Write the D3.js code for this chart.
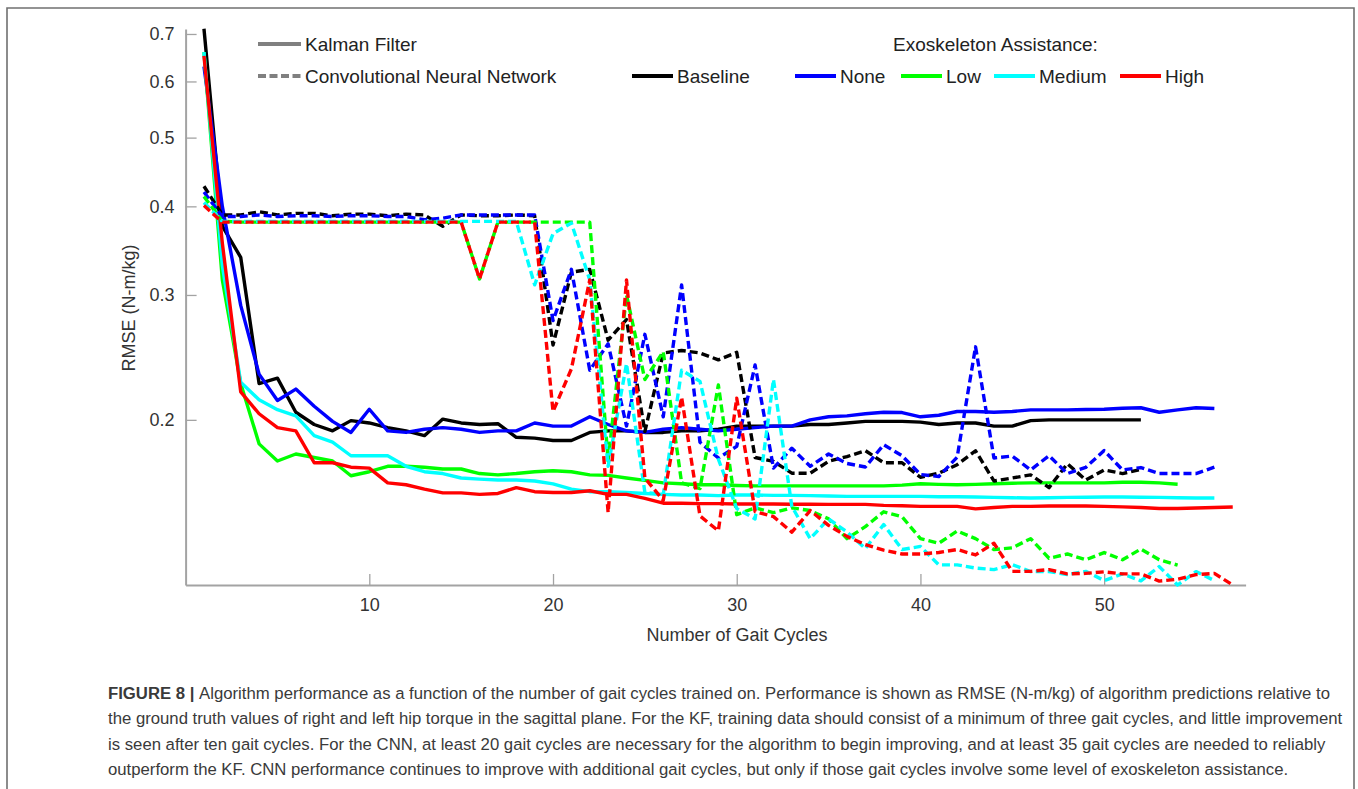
<!DOCTYPE html>
<html>
<head>
<meta charset="utf-8">
<script src="https://cdn.jsdelivr.net/npm/d3@7"></script>
<style>
  html, body { margin: 0; padding: 0; background: #fff; }
  svg { display: block; font-family: "Liberation Sans", Arial, Helvetica, sans-serif; }
</style>
</head>
<body>
<svg id="chart" width="1358" height="789"></svg>
<script>
// RMSE (N-m/kg) per number of gait cycles
const kfBaseline = [0.712, 0.375, 0.339, 0.225, 0.229, 0.205, 0.197, 0.193, 0.1995, 0.198,
  0.195, 0.193, 0.190, 0.2005, 0.198, 0.197, 0.1975, 0.189, 0.1885, 0.187,
  0.187, 0.192, 0.193, 0.193, 0.192, 0.192, 0.193, 0.193, 0.194, 0.196,
  0.196, 0.196, 0.196, 0.197, 0.197, 0.198, 0.199, 0.199, 0.199, 0.1985,
  0.197, 0.198, 0.198, 0.196, 0.196, 0.1995, 0.2, 0.2, 0.2, 0.2,
  0.2, 0.2];
const kfNone = [0.63, 0.40, 0.29, 0.232, 0.213, 0.221, 0.209, 0.199, 0.192, 0.207,
  0.193, 0.192, 0.194, 0.195, 0.194, 0.192, 0.193, 0.193, 0.198, 0.196,
  0.196, 0.202, 0.197, 0.193, 0.192, 0.194, 0.195, 0.194, 0.193, 0.194,
  0.195, 0.196, 0.196, 0.2, 0.202, 0.2026, 0.204, 0.205, 0.2048, 0.202,
  0.203, 0.2055, 0.2055, 0.205, 0.2055, 0.2066, 0.2066, 0.2066, 0.2068, 0.207,
  0.2077, 0.208, 0.205, 0.2066, 0.208, 0.2075];
const kfLow = [0.66, 0.315, 0.225, 0.185, 0.175, 0.179, 0.177, 0.175, 0.1668, 0.169,
  0.172, 0.172, 0.1715, 0.1705, 0.1705, 0.168, 0.1673, 0.168, 0.169, 0.1695,
  0.169, 0.1673, 0.167, 0.1656, 0.1643, 0.163, 0.1625, 0.162, 0.162, 0.1616,
  0.1614, 0.1614, 0.1614, 0.1614, 0.1614, 0.1614, 0.1614, 0.1614, 0.1618, 0.1625,
  0.1622, 0.162, 0.1622, 0.1625, 0.1628, 0.163, 0.163, 0.163, 0.163, 0.163,
  0.1633, 0.1633, 0.163, 0.1623];
const kfMedium = [0.66, 0.33, 0.226, 0.2135, 0.2067, 0.2026, 0.19, 0.186, 0.178, 0.178,
  0.178, 0.172, 0.169, 0.168, 0.1656, 0.165, 0.1645, 0.1645, 0.164, 0.1625,
  0.1597, 0.1584, 0.1584, 0.158, 0.1575, 0.157, 0.1567, 0.1567, 0.1564, 0.1567,
  0.1567, 0.1565, 0.1565, 0.1564, 0.1562, 0.156, 0.156, 0.156, 0.156, 0.156,
  0.1558, 0.1558, 0.1557, 0.1555, 0.1553, 0.1552, 0.1553, 0.1555, 0.1556, 0.1557,
  0.1557, 0.1556, 0.1555, 0.1553, 0.1552, 0.1552];
const kfHigh = [0.652, 0.355, 0.219, 0.204, 0.195, 0.193, 0.174, 0.174, 0.1715, 0.171,
  0.163, 0.162, 0.1597, 0.1578, 0.1578, 0.157, 0.1575, 0.1605, 0.1584, 0.158,
  0.158, 0.1589, 0.157, 0.157, 0.155, 0.1526, 0.1526, 0.1524, 0.1524, 0.1522,
  0.1522, 0.1522, 0.1521, 0.1521, 0.152, 0.152, 0.152, 0.1515, 0.1513, 0.151,
  0.151, 0.151, 0.1498, 0.1505, 0.151, 0.151, 0.1512, 0.1512, 0.1512, 0.151,
  0.1508, 0.1505, 0.15, 0.15, 0.1502, 0.1505, 0.1507];

const cnnBaseline = [0.427, 0.389, 0.389, 0.393, 0.389, 0.391, 0.391, 0.388, 0.39, 0.39,
  0.388, 0.39, 0.389, 0.375, 0.389, 0.388, 0.388, 0.389, 0.388, 0.255,
  0.323, 0.326, 0.259, 0.277, 0.1925, 0.2485, 0.2505, 0.2485, 0.243, 0.249,
  0.177, 0.1748, 0.1682, 0.1682, 0.1748, 0.1775, 0.181, 0.174, 0.174, 0.166,
  0.1682, 0.1729, 0.1809, 0.164, 0.1656, 0.1673, 0.1605, 0.1735, 0.1645, 0.17,
  0.168, 0.1703];
const cnnNone = [0.419, 0.387, 0.387, 0.389, 0.387, 0.388, 0.388, 0.387, 0.388, 0.388,
  0.387, 0.387, 0.383, 0.385, 0.389, 0.389, 0.389, 0.389, 0.389, 0.276,
  0.326, 0.235, 0.256, 0.196, 0.264, 0.202, 0.31, 0.186, 0.1767, 0.1835,
  0.239, 0.171, 0.1824, 0.172, 0.179, 0.1736, 0.1716, 0.1845, 0.178, 0.1675,
  0.1664, 0.1772, 0.2535, 0.1767, 0.1778, 0.17, 0.178, 0.168, 0.1714, 0.181,
  0.17, 0.1713, 0.168, 0.168, 0.168, 0.1715];
const cnnLow = [0.413, 0.381, 0.38, 0.38, 0.38, 0.38, 0.38, 0.38, 0.38, 0.38,
  0.38, 0.38, 0.38, 0.38, 0.38, 0.316, 0.38, 0.38, 0.38, 0.38,
  0.38, 0.38, 0.175, 0.30, 0.228, 0.2495, 0.163, 0.16, 0.224, 0.147,
  0.1503, 0.148, 0.1503, 0.149, 0.145, 0.136, 0.1414, 0.1484, 0.146, 0.136,
  0.134, 0.1394, 0.136, 0.1313, 0.132, 0.136, 0.1276, 0.1294, 0.127, 0.13,
  0.127, 0.1315, 0.127, 0.1248];
const cnnMedium = [0.405, 0.381, 0.381, 0.381, 0.381, 0.381, 0.381, 0.381, 0.381, 0.381,
  0.381, 0.381, 0.381, 0.381, 0.381, 0.381, 0.381, 0.381, 0.31, 0.366,
  0.379, 0.315, 0.172, 0.24, 0.158, 0.157, 0.235, 0.2266, 0.176, 0.15,
  0.145, 0.228, 0.151, 0.136, 0.145, 0.139, 0.1317, 0.1424, 0.1313, 0.1326,
  0.1249, 0.1249, 0.1236, 0.123, 0.125, 0.1222, 0.1222, 0.121, 0.1223, 0.1187,
  0.1213, 0.1186, 0.1242, 0.117, 0.1222, 0.1187];
const cnnHigh = [0.401, 0.38, 0.38, 0.38, 0.38, 0.38, 0.38, 0.38, 0.38, 0.38,
  0.38, 0.38, 0.38, 0.38, 0.38, 0.316, 0.38, 0.38, 0.38, 0.2055,
  0.236, 0.315, 0.148, 0.315, 0.1656, 0.154, 0.2153, 0.1464, 0.1395, 0.2146,
  0.1485, 0.1461, 0.1389, 0.149, 0.142, 0.137, 0.1334, 0.131, 0.1294, 0.1294,
  0.13, 0.1313, 0.129, 0.134, 0.1223, 0.1223, 0.123, 0.1213, 0.1215, 0.1221,
  0.1213, 0.1213, 0.1185, 0.1192, 0.121, 0.1215, 0.117];

const conditions = ["Baseline", "None", "Low", "Medium", "High"];
const conditionColors = ["#000000", "#0000ff", "#00ff00", "#00ffff", "#ff0000"];
const kfSeries = [kfBaseline, kfNone, kfLow, kfMedium, kfHigh];
const cnnSeries = [cnnBaseline, cnnNone, cnnLow, cnnMedium, cnnHigh];

const xTicks = [10, 20, 30, 40, 50];
const yMajorTicks = [0.2, 0.3, 0.4, 0.5, 0.6, 0.7];
const yMinorTicks = [0.12, 0.14, 0.16, 0.18, 0.22, 0.24, 0.26, 0.28, 0.32, 0.34, 0.36, 0.38,
  0.42, 0.44, 0.46, 0.48, 0.52, 0.54, 0.56, 0.58, 0.62, 0.64, 0.66, 0.68];

const captionLines = [
  "Algorithm performance as a function of the number of gait cycles trained on. Performance is shown as RMSE (N-m/kg) of algorithm predictions relative to",
  "the ground truth values of right and left hip torque in the sagittal plane. For the KF, training data should consist of a minimum of three gait cycles, and little improvement",
  "is seen after ten gait cycles. For the CNN, at least 20 gait cycles are necessary for the algorithm to begin improving, and at least 35 gait cycles are needed to reliably",
  "outperform the KF. CNN performance continues to improve with additional gait cycles, but only if those gait cycles involve some level of exoskeleton assistance."
];

const svg = d3.select("#chart");
const axisColor = "#a3a3a3";
const textColor = "#333333";

// figure frame
svg.append("path")
  .attr("d", "M7,800 V8 H1354 V800")
  .attr("fill", "none")
  .attr("stroke", "#707070")
  .attr("stroke-width", 1.6);

const x = d3.scaleLinear().domain([0, 57.7]).range([185.6, 1245.6]);
const y = d3.scaleLog().domain([0.117, 0.7114]).range([585, 29]);

// y axis
const yAxis = svg.append("g").attr("transform", `translate(${x(0)},0)`);
yAxis.call(d3.axisLeft(y).tickValues(yMinorTicks).tickSize(-6).tickSizeOuter(0).tickFormat(""));
yAxis.call(d3.axisLeft(y).tickValues(yMajorTicks).tickSize(-11).tickSizeOuter(0).tickPadding(11)
  .tickFormat(d3.format(".1f")));
yAxis.selectAll(".domain").attr("stroke", axisColor).attr("stroke-width", 2);
yAxis.selectAll(".tick line").attr("stroke", axisColor).attr("stroke-width", 1.3);
yAxis.selectAll("text").attr("font-size", 18).attr("fill", textColor);

// x axis
const xAxis = svg.append("g").attr("transform", `translate(0,${y.range()[0]})`);
xAxis.call(d3.axisBottom(x).tickValues(xTicks).tickSize(-11).tickSizeOuter(0).tickPadding(13)
  .tickFormat(d3.format("d")));
xAxis.selectAll(".domain").attr("stroke", axisColor).attr("stroke-width", 2);
xAxis.selectAll(".tick line").attr("stroke", axisColor).attr("stroke-width", 1.3);
xAxis.selectAll("text").attr("font-size", 18).attr("fill", textColor);

svg.append("text")
  .attr("x", 737).attr("y", 641)
  .attr("text-anchor", "middle")
  .attr("font-size", 18).attr("fill", textColor)
  .text("Number of Gait Cycles");

svg.append("text")
  .attr("transform", "translate(135,308) rotate(-90)")
  .attr("text-anchor", "middle")
  .attr("font-size", 18).attr("fill", textColor)
  .text("RMSE (N-m/kg)");

// data lines
const line = d3.line()
  .x((d, i) => x(i + 1))
  .y((d) => y(d));

const plot = svg.append("g");

kfSeries.forEach((values, k) => {
  plot.append("path")
    .datum(values)
    .attr("d", line)
    .attr("fill", "none")
    .attr("stroke", conditionColors[k])
    .attr("stroke-width", 3.4)
    .attr("stroke-linejoin", "round");
});

cnnSeries.forEach((values, k) => {
  plot.append("path")
    .datum(values)
    .attr("d", line)
    .attr("fill", "none")
    .attr("stroke", conditionColors[k])
    .attr("stroke-width", 3.4)
    .attr("stroke-dasharray", "8,4")
    .attr("stroke-linejoin", "round");
});

// legend
const legend = svg.append("g").attr("font-size", 19).attr("fill", "#222");

function legendItem(x1, x2, ly, color, dash, label) {
  legend.append("line")
    .attr("x1", x1).attr("x2", x2).attr("y1", ly).attr("y2", ly)
    .attr("stroke", color).attr("stroke-width", 4)
    .attr("stroke-dasharray", dash);
  legend.append("text")
    .attr("x", x2 + 4).attr("y", ly).attr("dy", "0.35em")
    .text(label);
}

legendItem(258, 301, 44, "#808080", null, "Kalman Filter");
legendItem(258, 301, 76, "#808080", "8,3.5", "Convolutional Neural Network");

legend.append("text")
  .attr("x", 893).attr("y", 44).attr("dy", "0.35em")
  .text("Exoskeleton Assistance:");

const legendStarts = [632, 795, 901, 994, 1120];
conditions.forEach((name, k) => {
  legendItem(legendStarts[k], legendStarts[k] + 41, 76, conditionColors[k], null, name);
});

// caption
const caption = svg.append("g").attr("fill", "#3a3a3a").attr("font-size", 16);
const captionTexts = captionLines.map((txt, i) => {
  const t = caption.append("text").attr("x", 108).attr("y", 699 + i * 25.3);
  if (i === 0) {
    t.append("tspan").attr("font-weight", "bold").text("FIGURE 8 | ");
  }
  t.append("tspan").text(txt);
  return t;
});
// scale the caption so the longest line ends where it does in the figure
const w1 = captionTexts[1].node().getComputedTextLength();
caption.attr("font-size", 16 * 1235 / w1);
</script>
</body>
</html>
